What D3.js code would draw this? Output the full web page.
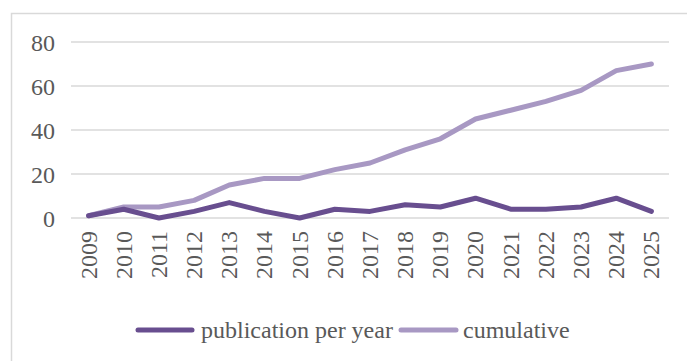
<!DOCTYPE html>
<html>
<head>
<meta charset="utf-8">
<script src="https://cdn.jsdelivr.net/npm/d3@7/dist/d3.min.js"></script>
<style>
  html, body { margin: 0; padding: 0; background: #fff; }
  svg { display: block; }
  text { font-family: "Liberation Serif", "Times New Roman", serif; fill: #595959; }
</style>
</head>
<body>
<svg id="chart" width="687" height="361"></svg>
<script>
// Publications per year and running total
const years = ["2009","2010","2011","2012","2013","2014","2015","2016","2017",
               "2018","2019","2020","2021","2022","2023","2024","2025"];
const perYear = [1, 4, 0, 3, 7, 3, 0, 4, 3, 6, 5, 9, 4, 4, 5, 9, 3];
const cumulative = [1, 5, 5, 8, 15, 18, 18, 22, 25, 31, 36, 45, 49, 53, 58, 67, 70];
const yTicks = [0, 20, 40, 60, 80];
const seriesNames = ["publication per year", "cumulative"];
const seriesColors = ["#684e8f", "#a898c3"];

const fontSize = 24;
const svg = d3.select("#chart");

// outer chart frame
svg.append("rect")
  .attr("x", 11.5).attr("y", 13.5)
  .attr("width", 700).attr("height", 400)
  .attr("fill", "#fff")
  .attr("stroke", "#d9d9d9")
  .attr("stroke-width", 1.5);

const plot = { left: 71, right: 669, top: 42, bottom: 218 };

const x = d3.scaleBand().domain(years).range([plot.left, plot.right]);
const y = d3.scaleLinear().domain([0, 80]).range([plot.bottom, plot.top]);

// horizontal gridlines
svg.append("g")
  .selectAll("line")
  .data(yTicks)
  .join("line")
  .attr("x1", plot.left).attr("x2", plot.right)
  .attr("y1", d => y(d)).attr("y2", d => y(d))
  .attr("stroke", "#d9d9d9")
  .attr("stroke-width", 1.5);

// y axis labels
const yAxis = d3.axisLeft(y).tickValues(yTicks).tickSize(0).tickPadding(0);
svg.append("g")
  .attr("transform", `translate(${plot.left - 16},0)`)
  .call(yAxis)
  .call(g => g.select(".domain").remove())
  .selectAll("text")
  .attr("font-family", "Liberation Serif, serif")
  .attr("font-size", fontSize)
  .attr("fill", "#595959")
  .attr("dy", "0.35em");

// x axis labels, rotated
const xAxis = d3.axisBottom(x).tickSize(0).tickPadding(0);
svg.append("g")
  .attr("transform", `translate(0,${plot.bottom})`)
  .call(xAxis)
  .call(g => g.select(".domain").remove())
  .selectAll("text")
  .attr("font-family", "Liberation Serif, serif")
  .attr("font-size", fontSize)
  .attr("fill", "#595959")
  .attr("text-anchor", "end")
  .attr("transform", "rotate(-90)")
  .attr("x", -13)
  .attr("y", 0)
  .attr("dy", "0.33em");

const line = d3.line()
  .x((d, i) => x(years[i]) + x.bandwidth() / 2)
  .y(d => y(d));

// cumulative drawn first, per-year on top
[[cumulative, 1], [perYear, 0]].forEach(([vals, k]) => {
  svg.append("path")
    .datum(vals)
    .attr("d", line)
    .attr("fill", "none")
    .attr("stroke", seriesColors[k])
    .attr("stroke-width", 5)
    .attr("stroke-linejoin", "round")
    .attr("stroke-linecap", "round");
});

// legend
const legendY = 330;
const legendItems = [
  { x1: 138, x2: 192, tx: 201 },
  { x1: 401, x2: 456, tx: 463 }
];
legendItems.forEach((it, i) => {
  svg.append("line")
    .attr("x1", it.x1).attr("x2", it.x2)
    .attr("y1", legendY).attr("y2", legendY)
    .attr("stroke", seriesColors[i])
    .attr("stroke-width", 5)
    .attr("stroke-linecap", "round");
  svg.append("text")
    .attr("x", it.tx).attr("y", legendY)
    .attr("dy", "0.33em")
    .attr("font-size", fontSize)
    .text(seriesNames[i]);
});
</script>
</body>
</html>
